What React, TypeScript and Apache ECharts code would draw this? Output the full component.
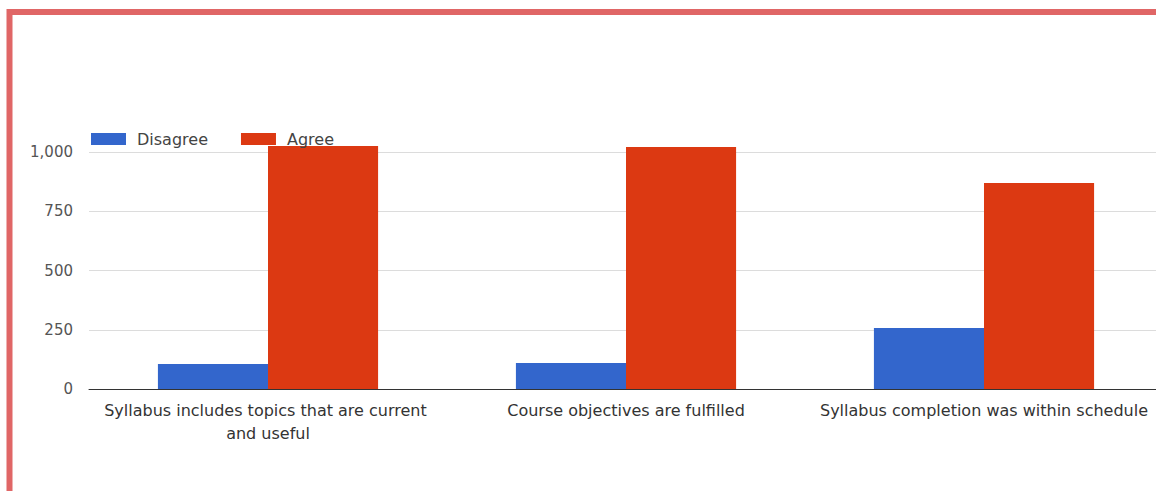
import React, { useEffect, useRef } from "react";
import * as echarts from "echarts";

const categories = [
  "Syllabus includes topics that are current and useful",
  "Course objectives are fulfilled",
  "Syllabus completion was within schedule",
];
const disagree = [105, 110, 257];
const agree = [1025, 1021, 869];
const seriesNames = ["Disagree", "Agree"];
const yTicks = { min: 0, max: 1000, interval: 250 };

export default function App() {
  const ref = useRef<HTMLDivElement>(null);
  useEffect(() => {
    if (!ref.current) return;
    const chart = echarts.init(ref.current, undefined, { renderer: "svg" });
    const font = "'DejaVu Sans', 'Liberation Sans', Arial, sans-serif";
    chart.setOption({
      animation: false,
      backgroundColor: "#ffffff",
      color: ["#3366cc", "#dc3912"],
      legend: {
        left: 86,
        top: 126,
        itemWidth: 35,
        itemHeight: 12,
        itemGap: 33,
        icon: "rect",
        data: seriesNames,
        textStyle: {
          fontFamily: font,
          fontSize: 16,
          color: "#444",
          padding: [0, 0, 0, 6],
        },
      },
      grid: { left: 89, right: 7, top: 152, bottom: 102 },
      xAxis: {
        type: "category",
        data: categories,
        axisTick: { show: false },
        axisLine: { lineStyle: { color: "#333", width: 1 } },
        axisLabel: {
          interval: 0,
          margin: 10,
          fontFamily: font,
          fontSize: 16,
          lineHeight: 23,
          color: "#333",
          width: 350,
          overflow: "break",
        },
      },
      yAxis: {
        type: "value",
        min: yTicks.min,
        max: yTicks.max,
        interval: yTicks.interval,
        axisLine: { show: false },
        axisTick: { show: false },
        splitLine: { lineStyle: { color: "#dcdcdc", width: 1 } },
        axisLabel: {
          margin: 16,
          fontFamily: font,
          fontSize: 15,
          color: "#555",
          formatter: (v: number) => v.toLocaleString("en-US"),
        },
      },
      series: [
        {
          name: seriesNames[0],
          type: "bar",
          data: disagree,
          barGap: "0%",
          barCategoryGap: "38.5%",
          clip: false,
        },
        {
          name: seriesNames[1],
          type: "bar",
          data: agree,
          barGap: "0%",
          barCategoryGap: "38.5%",
          clip: false,
        },
      ],
      graphic: [
        {
          type: "rect",
          shape: { x: 9.5, y: 12, width: 1300, height: 700 },
          style: { fill: "none", stroke: "#e06666", lineWidth: 6 },
          silent: true,
          z: 100,
        },
      ],
    });
    return () => chart.dispose();
  }, []);
  return (
    <div
      style={{
        position: "fixed",
        left: 0,
        top: 0,
        width: 1156,
        height: 491,
        overflow: "hidden",
        background: "#fff",
      }}
    >
      <div ref={ref} style={{ width: 1170, height: 491 }} />
    </div>
  );
}
